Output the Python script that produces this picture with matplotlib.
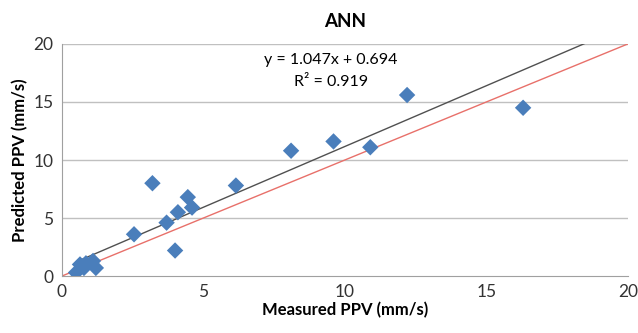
import numpy as np
import matplotlib
matplotlib.use("Agg")
import matplotlib.pyplot as plt

plt.rcParams['font.family'] = ['Lato', 'DejaVu Sans']

# measured vs predicted PPV (mm/s)
measured = [0.5, 0.64, 0.78, 0.85, 1.1, 1.2, 2.55, 3.2, 3.7, 4.0, 4.1, 4.45, 4.6, 6.15, 8.1, 9.6, 10.9, 12.2, 16.3]
predicted = [0.3, 1.0, 0.7, 1.1, 1.3, 0.7, 3.6, 8.0, 4.6, 2.2, 5.5, 6.8, 5.9, 7.8, 10.8, 11.6, 11.1, 15.6, 14.5]
slope = 1.047
intercept = 0.694
r2 = 0.919

fig, ax = plt.subplots(figsize=(6.38, 3.33), dpi=100)
fig.subplots_adjust(left=0.097, right=0.984, bottom=0.171, top=0.868)

for y in [5, 10, 15, 20]:
    ax.axhline(y, color='#c0c0c0', lw=1, zorder=0)

ax.plot([0, 20], [0, 20], color='#e8706a', lw=1, zorder=2)
xs = np.array([0.5, 20])
ax.plot(xs, slope * xs + intercept, color='#505050', lw=1, zorder=2)

ax.scatter(measured, predicted, marker='D', s=70, color='#4a7ebb', edgecolors='none', zorder=3)

ax.text(9.5, 18.6, "y = %.3fx + %.3f" % (slope, intercept), ha='center', va='center', fontsize=11.5)
ax.text(9.5, 16.7, "R² = %.3f" % r2, ha='center', va='center', fontsize=11.5)

ax.set_xlim(0, 20)
ax.set_ylim(0, 20)
ax.set_xticks([0, 5, 10, 15, 20])
ax.set_yticks([0, 5, 10, 15, 20])
ax.tick_params(length=0, labelsize=12.5, colors='#333333', pad=6)
for s in ['top', 'right']:
    ax.spines[s].set_visible(False)
for s in ['left', 'bottom']:
    ax.spines[s].set_color('#a0a0a0')

ax.set_title("ANN", fontsize=13.5, fontweight='bold', pad=12)
ax.set_xlabel("Measured PPV (mm/s)", fontsize=12, fontweight='bold', labelpad=1)
ax.set_ylabel("Predicted PPV (mm/s)", fontsize=12, fontweight='bold', labelpad=4)

fig.savefig("out.png", dpi=100)
